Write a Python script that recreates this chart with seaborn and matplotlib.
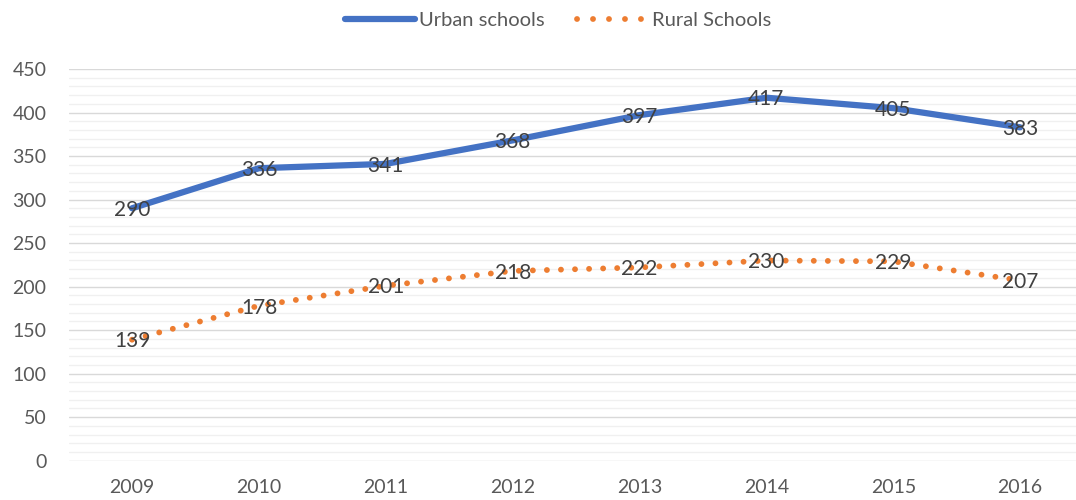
import matplotlib
matplotlib.use("Agg")
import matplotlib.pyplot as plt
from matplotlib.ticker import MultipleLocator
from matplotlib.lines import Line2D
import seaborn as sns
import pandas as pd

years = [2009, 2010, 2011, 2012, 2013, 2014, 2015, 2016]
urban = [290, 336, 341, 368, 397, 417, 405, 383]
rural = [139, 178, 201, 218, 222, 230, 229, 207]
series_names = ["Urban schools", "Rural Schools"]

sns.set_style("white")
plt.rcParams['font.family'] = ['Lato', 'DejaVu Sans']

df = pd.DataFrame({
    "year": years * 2,
    "value": urban + rural,
    "series": [series_names[0]] * len(years) + [series_names[1]] * len(years),
})

fig = plt.figure(figsize=(10.76, 5.0), dpi=100)
ax = fig.add_axes([68.6 / 1076, 1 - 460.7 / 500, 1015 / 1076, 391.7 / 500])

blue = "#4472C4"
orange = "#ED7D31"
sns.lineplot(data=df, x="year", y="value", hue="series",
             palette={series_names[0]: blue, series_names[1]: orange},
             ax=ax, legend=False)

ln_u, ln_r = ax.get_lines()[:2]
ln_u.set_linewidth(4.5)
ln_u.set_solid_capstyle("round")
ln_u.set_solid_joinstyle("round")
ln_r.set_linewidth(4.2)
ln_r.set_linestyle((0, (0.01, 2.4)))
ln_r.set_dash_capstyle("round")

# data labels sit on the points
for x, y in zip(years, urban):
    ax.text(x, y - 2, str(y), ha="center", va="center", fontsize=15, color="#404040")
for x, y in zip(years, rural):
    ax.text(x, y - 2, str(y), ha="center", va="center", fontsize=15, color="#404040")

ax.set_xlim(2008.5, 2016.5)
ax.set_ylim(0, 450)
ax.set_xticks(years)
ax.set_xticklabels([str(y) for y in years])
ax.yaxis.set_major_locator(MultipleLocator(50))
ax.yaxis.set_minor_locator(MultipleLocator(10))
ax.grid(True, which="major", axis="y", color="#D9D9D9", linewidth=1.0)
ax.grid(True, which="minor", axis="y", color="#F0F0F0", linewidth=1.0)
ax.set_axisbelow(True)
for s in ax.spines.values():
    s.set_visible(False)
ax.tick_params(axis="both", which="both", length=0, labelsize=14, colors="#595959")
ax.tick_params(axis="x", pad=13)
ax.tick_params(axis="y", pad=16)
ax.set_xlabel("")
ax.set_ylabel("")

h_u = Line2D([], [], color=blue, linewidth=4.5)
h_r = Line2D([], [], color=orange, linewidth=4.2, linestyle=(0, (0.01, 2.73)), dash_capstyle="round")
fig.legend([h_u, h_r], series_names, loc="center", bbox_to_anchor=(0.5186, 0.96), ncol=2,
           frameon=False, fontsize=14.5, handlelength=3.5, handletextpad=0.2, columnspacing=1.6,
           labelcolor="#595959")

fig.savefig("out.png", dpi=100)
